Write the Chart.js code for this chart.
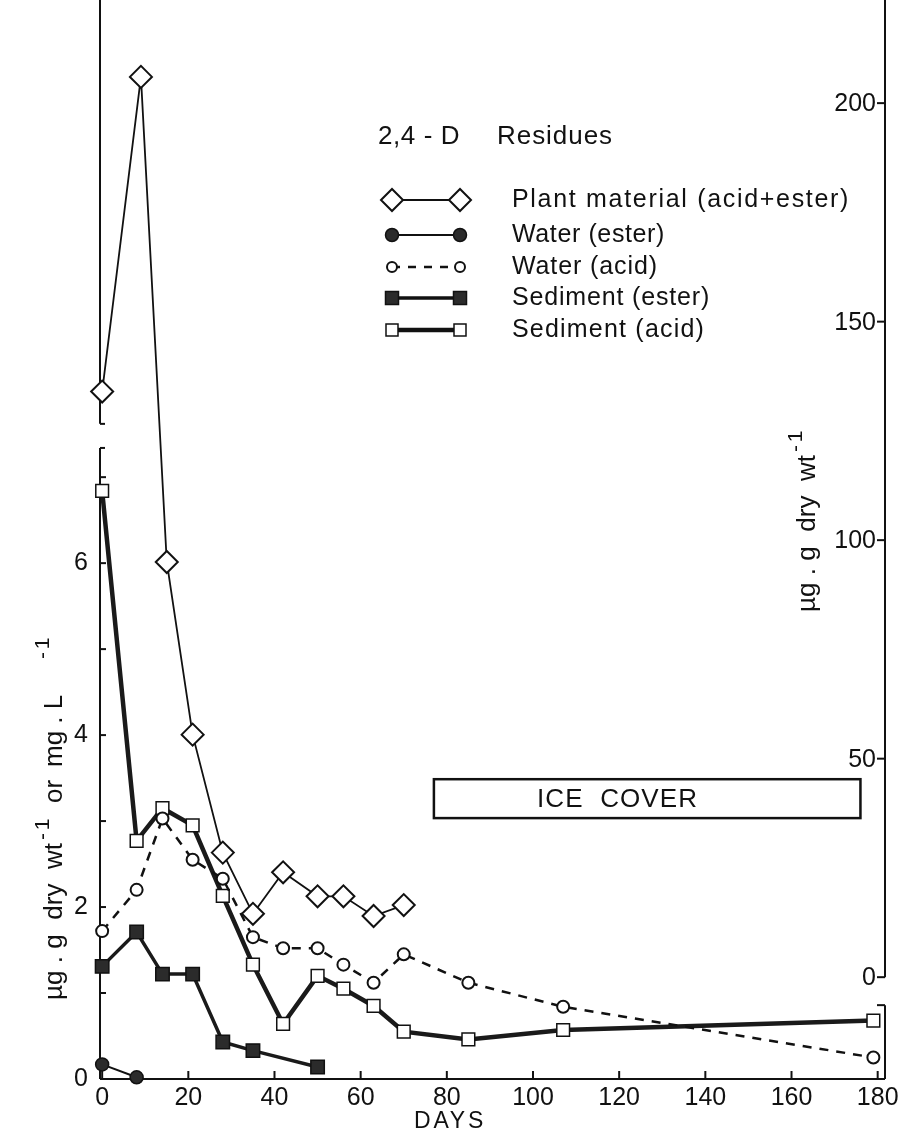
<!DOCTYPE html>
<html>
<head>
<meta charset="utf-8">
<title>2,4-D Residues</title>
<script src="https://cdn.jsdelivr.net/npm/chart.js"></script>
<style>
  body { margin: 0; background: #fff; }
  #wrap { width: 903px; height: 1138px; }
</style>
</head>
<body>
<div id="wrap"><canvas id="chart" width="903" height="1138"></canvas></div>
<script>
// axis ticks
const dayTicks = [0, 20, 40, 60, 80, 100, 120, 140, 160, 180];
const leftTicks = [0, 2, 4, 6];
const rightTicks = [0, 50, 100, 150, 200];

// plant material, ug/g dry wt (right axis)
const plantDays = [0, 9, 15, 21, 28, 35, 42, 50, 56, 63, 70];
const plantResidue = [134, 206, 95, 55.5, 28.5, 14.5, 24, 18.5, 18.5, 14, 16.5];

// water and sediment, left axis
const sampleDays = [0, 8, 14, 21, 28, 35, 42, 50, 56, 63, 70, 85, 107, 179];
const waterAcid = [1.72, 2.2, 3.03, 2.55, 2.33, 1.65, 1.52, 1.52, 1.33, 1.12, 1.45, 1.12, 0.84, 0.25];
const sedimentAcid = [6.84, 2.77, 3.15, 2.95, 2.13, 1.33, 0.64, 1.2, 1.05, 0.85, 0.55, 0.46, 0.57, 0.68];

const sedimentEsterDays = [0, 8, 14, 21, 28, 35, 50];
const sedimentEster = [1.31, 1.71, 1.22, 1.22, 0.43, 0.33, 0.14];

const waterEsterDays = [0, 8];
const waterEster = [0.17, 0.02];

// ice cover period (days) and its height band on the right axis
const iceDays = [77, 176];
const iceBand = [36.4, 45.3];

const FONT = '"Liberation Sans", Arial, Helvetica, sans-serif';
const INK = '#111';

const pts = (xs, ys) => xs.map((x, i) => ({ x: x, y: ys[i] }));

// text stretched to a given length, the lettering on this figure is wide
function spaced(ctx, text, x, y, width) {
  ctx.letterSpacing = '0px';
  const w = ctx.measureText(text).width;
  const extra = Math.max(0, (width - w) / text.length);
  ctx.letterSpacing = extra.toFixed(2) + 'px';
  ctx.fillText(text, x, y);
  ctx.letterSpacing = '0px';
}

function marker(ctx, style, x, y, r, fill, lw) {
  ctx.beginPath();
  if (style === 'diamond') {
    ctx.moveTo(x - r, y); ctx.lineTo(x, y - r); ctx.lineTo(x + r, y); ctx.lineTo(x, y + r); ctx.closePath();
  } else if (style === 'square') {
    ctx.rect(x - r, y - r, 2 * r, 2 * r);
  } else {
    ctx.arc(x, y, r, 0, Math.PI * 2);
  }
  ctx.fillStyle = fill;
  ctx.fill();
  ctx.lineWidth = lw;
  ctx.strokeStyle = INK;
  ctx.stroke();
}

const legendRows = [
  { label: 'Plant material (acid+ester)', width: 338, style: 'diamond', r: 11, fill: '#fff', line: 1.8, dash: [], mlw: 2 },
  { label: 'Water (ester)', width: 153, style: 'circle', r: 6.5, fill: '#2b2b2b', line: 2, dash: [], mlw: 1.5 },
  { label: 'Water (acid)', width: 146, style: 'circle', r: 5, fill: '#fff', line: 2.5, dash: [8, 8], mlw: 2 },
  { label: 'Sediment (ester)', width: 198, style: 'square', r: 6.5, fill: '#2b2b2b', line: 3.5, dash: [], mlw: 1.5 },
  { label: 'Sediment (acid)', width: 193, style: 'square', r: 6, fill: '#fff', line: 4.5, dash: [], mlw: 1.5 }
];

const frame = {
  id: 'frame',
  beforeDatasetsDraw(chart) {
    const { ctx, chartArea: a, scales: { x, y, y1 } } = chart;
    ctx.save();
    ctx.strokeStyle = INK;
    ctx.lineWidth = 2;
    const seg = (x0, y0, x1, y2) => { ctx.beginPath(); ctx.moveTo(x0, y0); ctx.lineTo(x1, y2); ctx.stroke(); };

    seg(a.left, a.bottom, a.right, a.bottom);
    dayTicks.forEach(d => {
      const p = x.getPixelForValue(d);
      seg(p, a.bottom, p, a.bottom - 8);
    });

    // left axis is broken just above the concentration scale
    const lb = y.getPixelForValue(7.34);
    const lt = y.getPixelForValue(7.62);
    seg(a.left, a.bottom, a.left, lb);
    seg(a.left, lt, a.left, a.top);
    seg(a.left, lb, a.left + 5, lb);
    seg(a.left, lt, a.left + 5, lt);
    for (let v = 0; v <= 7; v++) {
      const p = y.getPixelForValue(v);
      seg(a.left, p, a.left + 6, p);
    }

    // right axis is broken just below zero
    const r0 = y1.getPixelForValue(0);
    const r1 = y1.getPixelForValue(-6.4);
    seg(a.right, a.top, a.right, r0);
    seg(a.right, r1, a.right, a.bottom);
    seg(a.right, r1, a.right - 8, r1);
    ctx.fillStyle = INK;
    ctx.font = '25px ' + FONT;
    ctx.textAlign = 'right';
    ctx.textBaseline = 'middle';
    rightTicks.forEach(v => {
      const p = y1.getPixelForValue(v);
      seg(a.right, p, a.right - 8, p);
      ctx.fillText(String(v), a.right - 9, p + 1);
    });
    ctx.restore();
  },
  afterDatasetsDraw(chart) {
    const { ctx, scales: { x, y1 } } = chart;
    ctx.save();
    ctx.fillStyle = INK;
    ctx.textAlign = 'left';
    ctx.textBaseline = 'middle';

    // legend
    ctx.font = '26px ' + FONT;
    spaced(ctx, '2,4 - D', 378, 137, 82);
    spaced(ctx, 'Residues', 497, 137, 116);
    const rowY = [200, 235, 267, 298, 330];
    legendRows.forEach((row, i) => {
      const ry = rowY[i];
      ctx.strokeStyle = INK;
      ctx.lineWidth = row.line;
      ctx.setLineDash(row.dash);
      ctx.beginPath(); ctx.moveTo(392, ry); ctx.lineTo(460, ry); ctx.stroke();
      ctx.setLineDash([]);
      marker(ctx, row.style, 392, ry, row.r, row.fill, row.mlw);
      marker(ctx, row.style, 460, ry, row.r, row.fill, row.mlw);
      ctx.fillStyle = INK;
      ctx.font = '25px ' + FONT;
      spaced(ctx, row.label, 512, ry, row.width);
    });

    // ice cover bar
    const bx0 = x.getPixelForValue(iceDays[0]);
    const bx1 = x.getPixelForValue(iceDays[1]);
    const by0 = y1.getPixelForValue(iceBand[1]);
    const by1 = y1.getPixelForValue(iceBand[0]);
    ctx.lineWidth = 2.5;
    ctx.strokeStyle = INK;
    ctx.strokeRect(bx0, by0, bx1 - bx0, by1 - by0);
    ctx.font = '26px ' + FONT;
    spaced(ctx, 'ICE  COVER', 537, (by0 + by1) / 2 + 1, 161);

    // x title
    ctx.font = '23px ' + FONT;
    ctx.textAlign = 'center';
    spaced(ctx, 'DAYS', 450, 1122, 72);

    // rotated y titles with superscripts
    const vertical = (x0, y0, parts) => {
      ctx.save();
      ctx.translate(x0, y0);
      ctx.rotate(-Math.PI / 2);
      ctx.textAlign = 'left';
      ctx.textBaseline = 'alphabetic';
      parts.forEach(p => {
        ctx.font = (p.sup ? '21px ' : '26px ') + FONT;
        spaced(ctx, p.text, p.at, p.sup ? -13 : 0, p.len);
      });
      ctx.restore();
    };
    vertical(62, 1000, [
      { text: '\u00b5g . g  dry  wt', at: 0, len: 157 },
      { text: '-1', at: 160, len: 24, sup: true },
      { text: 'or', at: 197, len: 20 },
      { text: 'mg . L', at: 233, len: 64 },
      { text: '-1', at: 341, len: 24, sup: true }
    ]);
    vertical(815, 612, [
      { text: '\u00b5g . g  dry  wt', at: 0, len: 157 },
      { text: '-1', at: 160, len: 24, sup: true }
    ]);
    ctx.restore();
  }
};

// keep the plot area pinned to the frame: no extra room for edge labels
const noPad = s => { s.paddingTop = 0; s.paddingBottom = 0; s.paddingLeft = 0; s.paddingRight = 0; };

const ctx = document.getElementById('chart').getContext('2d');
new Chart(ctx, {
  type: 'line',
  data: {
    datasets: [
      {
        label: 'Plant material (acid+ester)',
        data: pts(plantDays, plantResidue),
        yAxisID: 'y1',
        borderColor: INK, borderWidth: 1.8,
        pointStyle: 'rectRot', pointRadius: 11,
        pointBackgroundColor: '#fff', pointBorderColor: INK, pointBorderWidth: 2,
        clip: false
      },
      {
        label: 'Water (ester)',
        data: pts(waterEsterDays, waterEster),
        yAxisID: 'y',
        borderColor: INK, borderWidth: 2,
        pointStyle: 'circle', pointRadius: 6.5,
        pointBackgroundColor: '#2b2b2b', pointBorderColor: INK, pointBorderWidth: 1.5,
        clip: false
      },
      {
        label: 'Water (acid)',
        data: pts(sampleDays, waterAcid),
        yAxisID: 'y',
        borderColor: INK, borderWidth: 2.5, borderDash: [9, 8],
        pointStyle: 'circle', pointRadius: 6,
        pointBackgroundColor: '#fff', pointBorderColor: INK, pointBorderWidth: 2,
        clip: false
      },
      {
        label: 'Sediment (ester)',
        data: pts(sedimentEsterDays, sedimentEster),
        yAxisID: 'y',
        borderColor: '#1a1a1a', borderWidth: 3.5,
        pointStyle: 'rect', pointRadius: 9.5,
        pointBackgroundColor: '#2b2b2b', pointBorderColor: INK, pointBorderWidth: 1.5,
        clip: false
      },
      {
        label: 'Sediment (acid)',
        data: pts(sampleDays, sedimentAcid),
        yAxisID: 'y',
        borderColor: '#1a1a1a', borderWidth: 4.5,
        pointStyle: 'rect', pointRadius: 9,
        pointBackgroundColor: '#fff', pointBorderColor: INK, pointBorderWidth: 1.5,
        clip: false
      }
    ]
  },
  options: {
    responsive: false,
    animation: false,
    layout: { autoPadding: false, padding: { left: 0, right: 18, top: 0, bottom: 0 } },
    elements: { line: { tension: 0 } },
    plugins: { legend: { display: false }, tooltip: { enabled: false } },
    scales: {
      x: {
        type: 'linear', min: -0.5, max: 181.7,
        grid: { display: false, drawTicks: false }, border: { display: false },
        ticks: { color: INK, font: { family: FONT, size: 25 }, padding: 4, maxRotation: 0 },
        afterBuildTicks: s => { s.ticks = dayTicks.map(v => ({ value: v })); },
        afterFit: s => { s.height = 59; noPad(s); }
      },
      y: {
        position: 'left', min: 0, max: 12.55,
        grid: { display: false, drawTicks: false }, border: { display: false },
        ticks: { color: INK, font: { family: FONT, size: 25 }, padding: 12 },
        afterBuildTicks: s => { s.ticks = leftTicks.map(v => ({ value: v })); },
        afterFit: s => { s.width = 100; noPad(s); }
      },
      y1: {
        position: 'right', min: -23.3, max: 223.6,
        grid: { display: false, drawTicks: false }, border: { display: false },
        ticks: { display: false },
        afterFit: s => { s.width = 0; noPad(s); }
      }
    }
  },
  plugins: [frame]
});
</script>
</body>
</html>
